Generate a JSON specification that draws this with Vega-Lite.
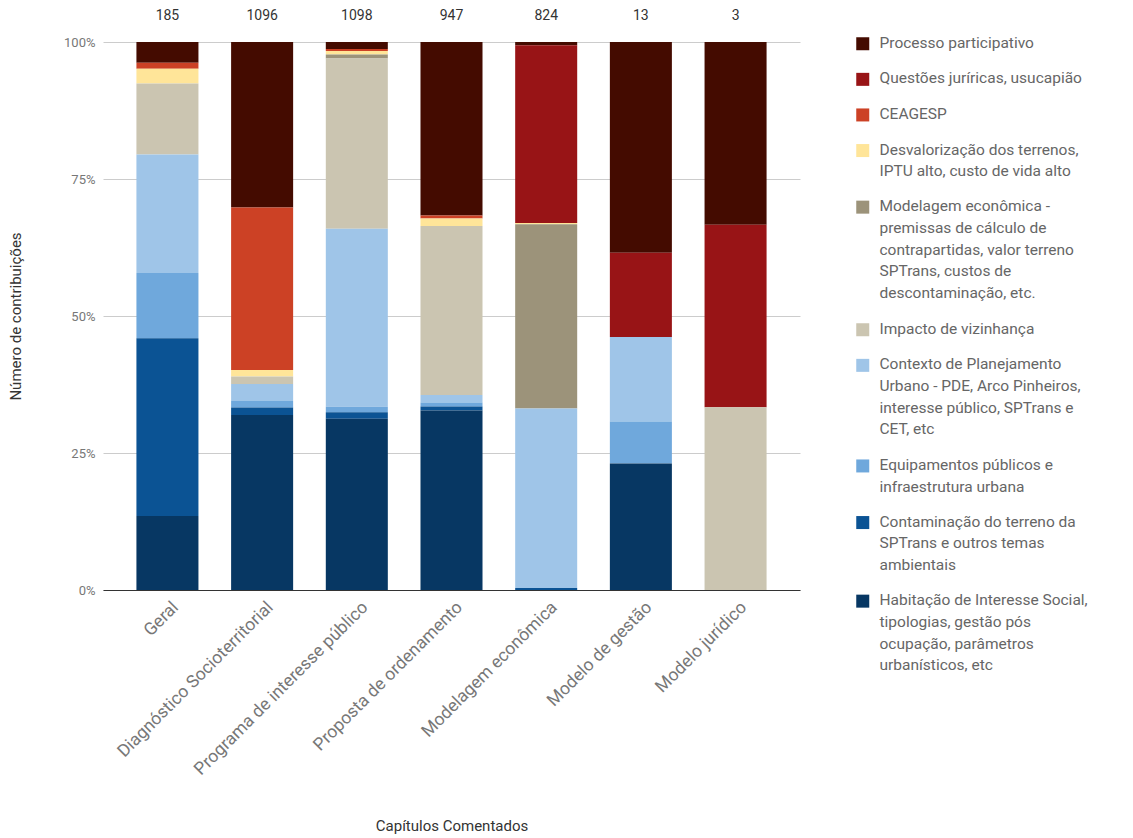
{
  "$schema": "https://vega.github.io/schema/vega-lite/v6.json",
  "autosize": {"type": "none"},
  "width": 697,
  "height": 548,
  "padding": {"left": 103, "top": 42, "right": 333, "bottom": 248},
  "config": {
    "font": "Roboto",
    "view": {"stroke": null},
    "axis": {"labelFont": "Roboto", "titleFont": "Roboto", "titleFontWeight": "normal"},
    "legend": {"labelFont": "Roboto"}
  },
  "data": {
    "values": [
      {"cap": "Geral", "tema": "Processo participativo", "n": 7},
      {"cap": "Geral", "tema": "CEAGESP", "n": 2},
      {"cap": "Geral", "tema": "Desvalorização dos terrenos, IPTU alto, custo de vida alto", "n": 5},
      {"cap": "Geral", "tema": "Impacto de vizinhança", "n": 24},
      {"cap": "Geral", "tema": "Contexto de Planejamento Urbano - PDE, Arco Pinheiros, interesse público, SPTrans e CET, etc", "n": 40},
      {"cap": "Geral", "tema": "Equipamentos públicos e infraestrutura urbana", "n": 22},
      {"cap": "Geral", "tema": "Contaminação do terreno da SPTrans e outros temas ambientais", "n": 60},
      {"cap": "Geral", "tema": "Habitação de Interesse Social, tipologias, gestão pós ocupação, parâmetros urbanísticos, etc", "n": 25},

      {"cap": "Diagnóstico Socioterritorial", "tema": "Processo participativo", "n": 331},
      {"cap": "Diagnóstico Socioterritorial", "tema": "CEAGESP", "n": 325},
      {"cap": "Diagnóstico Socioterritorial", "tema": "Desvalorização dos terrenos, IPTU alto, custo de vida alto", "n": 13},
      {"cap": "Diagnóstico Socioterritorial", "tema": "Impacto de vizinhança", "n": 15},
      {"cap": "Diagnóstico Socioterritorial", "tema": "Contexto de Planejamento Urbano - PDE, Arco Pinheiros, interesse público, SPTrans e CET, etc", "n": 34},
      {"cap": "Diagnóstico Socioterritorial", "tema": "Equipamentos públicos e infraestrutura urbana", "n": 13},
      {"cap": "Diagnóstico Socioterritorial", "tema": "Contaminação do terreno da SPTrans e outros temas ambientais", "n": 15},
      {"cap": "Diagnóstico Socioterritorial", "tema": "Habitação de Interesse Social, tipologias, gestão pós ocupação, parâmetros urbanísticos, etc", "n": 350},

      {"cap": "Programa de interesse público", "tema": "Processo participativo", "n": 14},
      {"cap": "Programa de interesse público", "tema": "CEAGESP", "n": 4},
      {"cap": "Programa de interesse público", "tema": "Desvalorização dos terrenos, IPTU alto, custo de vida alto", "n": 7},
      {"cap": "Programa de interesse público", "tema": "Modelagem econômica - premissas de cálculo de contrapartidas, valor terreno SPTrans, custos de descontaminação, etc.", "n": 8},
      {"cap": "Programa de interesse público", "tema": "Impacto de vizinhança", "n": 341},
      {"cap": "Programa de interesse público", "tema": "Contexto de Planejamento Urbano - PDE, Arco Pinheiros, interesse público, SPTrans e CET, etc", "n": 357},
      {"cap": "Programa de interesse público", "tema": "Equipamentos públicos e infraestrutura urbana", "n": 11},
      {"cap": "Programa de interesse público", "tema": "Contaminação do terreno da SPTrans e outros temas ambientais", "n": 13},
      {"cap": "Programa de interesse público", "tema": "Habitação de Interesse Social, tipologias, gestão pós ocupação, parâmetros urbanísticos, etc", "n": 343},

      {"cap": "Proposta de ordenamento", "tema": "Processo participativo", "n": 300},
      {"cap": "Proposta de ordenamento", "tema": "CEAGESP", "n": 5},
      {"cap": "Proposta de ordenamento", "tema": "Desvalorização dos terrenos, IPTU alto, custo de vida alto", "n": 13},
      {"cap": "Proposta de ordenamento", "tema": "Impacto de vizinhança", "n": 292},
      {"cap": "Proposta de ordenamento", "tema": "Contexto de Planejamento Urbano - PDE, Arco Pinheiros, interesse público, SPTrans e CET, etc", "n": 13},
      {"cap": "Proposta de ordenamento", "tema": "Equipamentos públicos e infraestrutura urbana", "n": 7},
      {"cap": "Proposta de ordenamento", "tema": "Contaminação do terreno da SPTrans e outros temas ambientais", "n": 7},
      {"cap": "Proposta de ordenamento", "tema": "Habitação de Interesse Social, tipologias, gestão pós ocupação, parâmetros urbanísticos, etc", "n": 310},

      {"cap": "Modelagem econômica", "tema": "Processo participativo", "n": 5},
      {"cap": "Modelagem econômica", "tema": "Questões juríricas, usucapião", "n": 267},
      {"cap": "Modelagem econômica", "tema": "Desvalorização dos terrenos, IPTU alto, custo de vida alto", "n": 2},
      {"cap": "Modelagem econômica", "tema": "Modelagem econômica - premissas de cálculo de contrapartidas, valor terreno SPTrans, custos de descontaminação, etc.", "n": 277},
      {"cap": "Modelagem econômica", "tema": "Contexto de Planejamento Urbano - PDE, Arco Pinheiros, interesse público, SPTrans e CET, etc", "n": 270},
      {"cap": "Modelagem econômica", "tema": "Contaminação do terreno da SPTrans e outros temas ambientais", "n": 3},

      {"cap": "Modelo de gestão", "tema": "Processo participativo", "n": 5},
      {"cap": "Modelo de gestão", "tema": "Questões juríricas, usucapião", "n": 2},
      {"cap": "Modelo de gestão", "tema": "Contexto de Planejamento Urbano - PDE, Arco Pinheiros, interesse público, SPTrans e CET, etc", "n": 2},
      {"cap": "Modelo de gestão", "tema": "Equipamentos públicos e infraestrutura urbana", "n": 1},
      {"cap": "Modelo de gestão", "tema": "Habitação de Interesse Social, tipologias, gestão pós ocupação, parâmetros urbanísticos, etc", "n": 3},

      {"cap": "Modelo jurídico", "tema": "Processo participativo", "n": 1},
      {"cap": "Modelo jurídico", "tema": "Questões juríricas, usucapião", "n": 1},
      {"cap": "Modelo jurídico", "tema": "Impacto de vizinhança", "n": 1}
    ]
  },
  "encoding": {
    "x": {
      "field": "cap",
      "type": "nominal",
      "sort": null,
      "scale": {"paddingInner": 0.345, "paddingOuter": 0.353},
      "axis": {
        "title": "Capítulos Comentados",
        "titleFontSize": 15,
        "titleColor": "#333333",
        "titlePadding": 41,
        "labelAngle": -45,
        "labelFontSize": 17.5,
        "labelColor": "#777777",
        "labelPadding": 8,
        "labelOffset": 2,
        "labelLimit": 400,
        "ticks": false,
        "domainColor": "#333333",
        "domainWidth": 1
      }
    }
  },
  "layer": [
    {
      "mark": {"type": "bar"},
      "transform": [
        {"calculate": "indexof(['Processo participativo','Questões juríricas, usucapião','CEAGESP','Desvalorização dos terrenos, IPTU alto, custo de vida alto','Modelagem econômica - premissas de cálculo de contrapartidas, valor terreno SPTrans, custos de descontaminação, etc.','Impacto de vizinhança','Contexto de Planejamento Urbano - PDE, Arco Pinheiros, interesse público, SPTrans e CET, etc','Equipamentos públicos e infraestrutura urbana','Contaminação do terreno da SPTrans e outros temas ambientais','Habitação de Interesse Social, tipologias, gestão pós ocupação, parâmetros urbanísticos, etc'], datum.tema)", "as": "ordem"}
      ],
      "encoding": {
        "y": {
          "field": "n",
          "type": "quantitative",
          "stack": "normalize",
          "scale": {"domain": [0, 1]},
          "axis": {
            "title": "Número de contribuições",
            "titleFontSize": 15,
            "titleColor": "#333333",
            "titlePadding": 40,
            "values": [0, 0.25, 0.5, 0.75, 1],
            "format": ".0%",
            "labelFontSize": 13,
            "labelColor": "#777777",
            "labelPadding": 8,
            "ticks": false,
            "domain": false,
            "gridColor": "#cccccc"
          }
        },
        "order": {"field": "ordem", "sort": "descending"},
        "color": {
          "field": "tema",
          "type": "nominal",
          "scale": {
            "domain": [
              "Processo participativo",
              "Questões juríricas, usucapião",
              "CEAGESP",
              "Desvalorização dos terrenos, IPTU alto, custo de vida alto",
              "Modelagem econômica - premissas de cálculo de contrapartidas, valor terreno SPTrans, custos de descontaminação, etc.",
              "Impacto de vizinhança",
              "Contexto de Planejamento Urbano - PDE, Arco Pinheiros, interesse público, SPTrans e CET, etc",
              "Equipamentos públicos e infraestrutura urbana",
              "Contaminação do terreno da SPTrans e outros temas ambientais",
              "Habitação de Interesse Social, tipologias, gestão pós ocupação, parâmetros urbanísticos, etc"
            ],
            "range": ["#440b00", "#981416", "#cc4125", "#ffe599", "#9c937a", "#cbc5b1", "#9fc5e8", "#6fa8dc", "#0b5394", "#073763"]
          },
          "legend": {
            "title": null,
            "orient": "none",
            "legendX": 752,
            "legendY": -6,
            "symbolType": "square",
            "symbolSize": 169,
            "symbolStrokeWidth": 0,
            "labelFontSize": 15.5,
            "labelColor": "#666666",
            "labelLimit": 320,
            "labelOffset": 9,
            "labelBaseline": "top",
            "rowPadding": 18.6,
            "encode": {
              "labels": {"update": {"dy": {"value": -8}, "lineHeight": {"value": 21.7}}}
            },
            "labelExpr": "datum.label == 'Desvalorização dos terrenos, IPTU alto, custo de vida alto' ? ['Desvalorização dos terrenos,', 'IPTU alto, custo de vida alto'] : datum.label == 'Modelagem econômica - premissas de cálculo de contrapartidas, valor terreno SPTrans, custos de descontaminação, etc.' ? ['Modelagem econômica -', 'premissas de cálculo de', 'contrapartidas, valor terreno', 'SPTrans, custos de', 'descontaminação, etc.'] : datum.label == 'Contexto de Planejamento Urbano - PDE, Arco Pinheiros, interesse público, SPTrans e CET, etc' ? ['Contexto de Planejamento', 'Urbano - PDE, Arco Pinheiros,', 'interesse público, SPTrans e', 'CET, etc'] : datum.label == 'Equipamentos públicos e infraestrutura urbana' ? ['Equipamentos públicos e', 'infraestrutura urbana'] : datum.label == 'Contaminação do terreno da SPTrans e outros temas ambientais' ? ['Contaminação do terreno da', 'SPTrans e outros temas', 'ambientais'] : datum.label == 'Habitação de Interesse Social, tipologias, gestão pós ocupação, parâmetros urbanísticos, etc' ? ['Habitação de Interesse Social,', 'tipologias, gestão pós', 'ocupação, parâmetros', 'urbanísticos, etc'] : datum.label"
          }
        }
      }
    },
    {
      "transform": [
        {"aggregate": [{"op": "sum", "field": "n", "as": "total"}], "groupby": ["cap"]}
      ],
      "mark": {"type": "text", "fontSize": 14, "color": "#333333", "baseline": "middle", "dy": -26},
      "encoding": {
        "y": {"datum": 1, "type": "quantitative"},
        "text": {"field": "total", "type": "quantitative"}
      }
    }
  ]
}
